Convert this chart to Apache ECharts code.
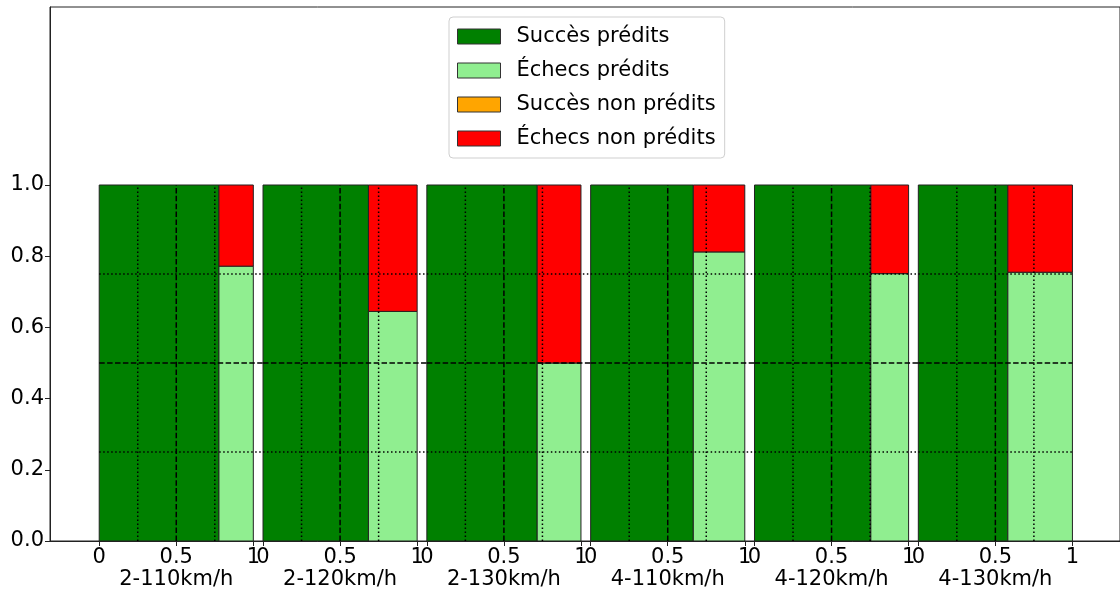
<!DOCTYPE html>
<html>
<head>
<meta charset="utf-8">
<script src="https://cdn.jsdelivr.net/npm/echarts@6/dist/echarts.min.js"></script>
<style>html,body{margin:0;padding:0;background:#fff}#chart{width:1120px;height:591px}</style>
</head>
<body>
<div id="chart"></div>
<script>
// ---- data ----
const categories = ['2-110km/h', '2-120km/h', '2-130km/h', '4-110km/h', '4-120km/h', '4-130km/h'];
// share of successes in each configuration (column width)
const successShare = [0.777, 0.684, 0.716, 0.666, 0.755, 0.581];
// share of successes that were predicted
const predictedSuccessShare = [1, 1, 1, 1, 1, 1];
// share of failures that were predicted
const predictedFailureShare = [0.772, 0.645, 0.5, 0.812, 0.751, 0.755];
const seriesNames = ['Succès prédits', 'Échecs prédits', 'Succès non prédits', 'Échecs non prédits'];
const seriesColors = ['#008000', '#90EE90', '#FFA500', '#FF0000'];
const xTickValues = [0, 0.5, 1];
const yTickValues = [0, 0.2, 0.4, 0.6, 0.8, 1.0];
const refLevels = [0.25, 0.5, 0.75];

// ---- layout constants ----
const STEP = 1.063;          // panel pitch (panel width 1 + gap)
const XMIN = -0.3193;
const XMAX = 6.6237;
const FONT = 'DejaVu Sans';

const n = categories.length;
const tiles = { 'Succès prédits': [], 'Échecs prédits': [], 'Succès non prédits': [], 'Échecs non prédits': [] };
categories.forEach((c, i) => {
  const o = i * STEP, s = successShare[i], ps = predictedSuccessShare[i], pf = predictedFailureShare[i];
  tiles['Succès prédits'].push([o, o + s, 0, ps]);
  tiles['Succès non prédits'].push([o, o + s, ps, 1]);
  tiles['Échecs prédits'].push([o + s, o + 1, 0, pf]);
  tiles['Échecs non prédits'].push([o + s, o + 1, pf, 1]);
});

// reference lines: horizontal (split per panel incl. gap) and vertical
const refLines = [];
categories.forEach((c, i) => {
  const x0 = i * STEP;
  const x1 = i < n - 1 ? (i + 1) * STEP : i * STEP + 1;
  refLevels.forEach(v => refLines.push([x0, v, x1, v, v === 0.5 ? 1 : 0]));
  refLevels.forEach(v => refLines.push([x0 + v, 0, x0 + v, 1, v === 0.5 ? 1 : 0]));
});

const xCustom = [];
categories.forEach((c, i) => xTickValues.forEach(v => xCustom.push(i * STEP + v)));

function tileRender(params, api) {
  const a = api.coord([api.value(0), api.value(3)]);
  const b = api.coord([api.value(1), api.value(2)]);
  const w = b[0] - a[0], h = b[1] - a[1];
  if (w <= 0.01 || h <= 0.01) return null;
  return { type: 'rect', shape: { x: a[0], y: a[1], width: w, height: h }, style: api.style() };
}

const series = seriesNames.map((name, k) => ({
  type: 'custom',
  name: name,
  renderItem: tileRender,
  data: tiles[name],
  encode: { x: [0, 1], y: [2, 3] },
  itemStyle: { color: seriesColors[k], borderColor: '#222', borderWidth: 1 },
  z: 2,
  silent: true
}));

series.push({
  type: 'custom',
  name: 'ref',
  silent: true,
  z: 5,
  data: refLines,
  encode: { x: [0, 2], y: [1, 3] },
  renderItem: function (params, api) {
    const p0 = api.coord([api.value(0), api.value(1)]);
    const p1 = api.coord([api.value(2), api.value(3)]);
    const dashed = api.value(4) === 1;
    return {
      type: 'line',
      shape: { x1: p0[0], y1: p0[1], x2: p1[0], y2: p1[1] },
      style: { stroke: '#000', lineWidth: 1.5, lineDash: dashed ? [5.5, 2.4] : [1.5, 2.5] }
    };
  }
});

const chart = echarts.init(document.getElementById('chart'), null, { renderer: 'canvas' });
chart.setOption({
  animation: false,
  backgroundColor: '#fff',
  grid: { left: 50, top: 7, width: 1072, height: 534, show: true, borderColor: '#222', borderWidth: 1, backgroundColor: 'transparent' },
  legend: {
    data: seriesNames, orient: 'vertical', left: 449, top: 17, icon: 'rect',
    itemWidth: 43, itemHeight: 15, itemGap: 13, padding: [9, 9, 9, 8],
    borderColor: '#cfcfcf', borderWidth: 1, borderRadius: 4, backgroundColor: '#fff',
    itemStyle: { borderColor: '#333', borderWidth: 1 }, selectedMode: false,
    textStyle: { fontFamily: FONT, fontSize: 21, color: '#000', lineHeight: 21, padding: [0, 0, 0, 11] }
  },
  xAxis: {
    type: 'value', min: XMIN, max: XMAX,
    splitLine: { show: false },
    axisLine: { show: true, onZero: false, lineStyle: { color: '#222', width: 1 } },
    axisTick: { show: true, customValues: xCustom, length: 5, lineStyle: { color: '#222' } },
    axisLabel: {
      customValues: xCustom, fontFamily: FONT, fontSize: 21, color: '#000', lineHeight: 22, margin: 6,
      formatter: function (v) {
        const i = Math.round((v - 0.5) / STEP);
        const local = Math.round((v - i * STEP) * 2) / 2;
        if (local === 0.5) return '0.5\n' + categories[i];
        return String(local);
      }
    }
  },
  yAxis: {
    type: 'value', min: 0, max: 1.5,
    splitLine: { show: false },
    axisLine: { show: true, onZero: false, lineStyle: { color: '#222', width: 1 } },
    axisTick: { show: true, customValues: yTickValues, length: 5, lineStyle: { color: '#222' } },
    axisLabel: { customValues: yTickValues, fontFamily: FONT, fontSize: 21, color: '#000', margin: 6, formatter: v => v.toFixed(1) }
  },
  series: series
});
</script>
</body>
</html>
